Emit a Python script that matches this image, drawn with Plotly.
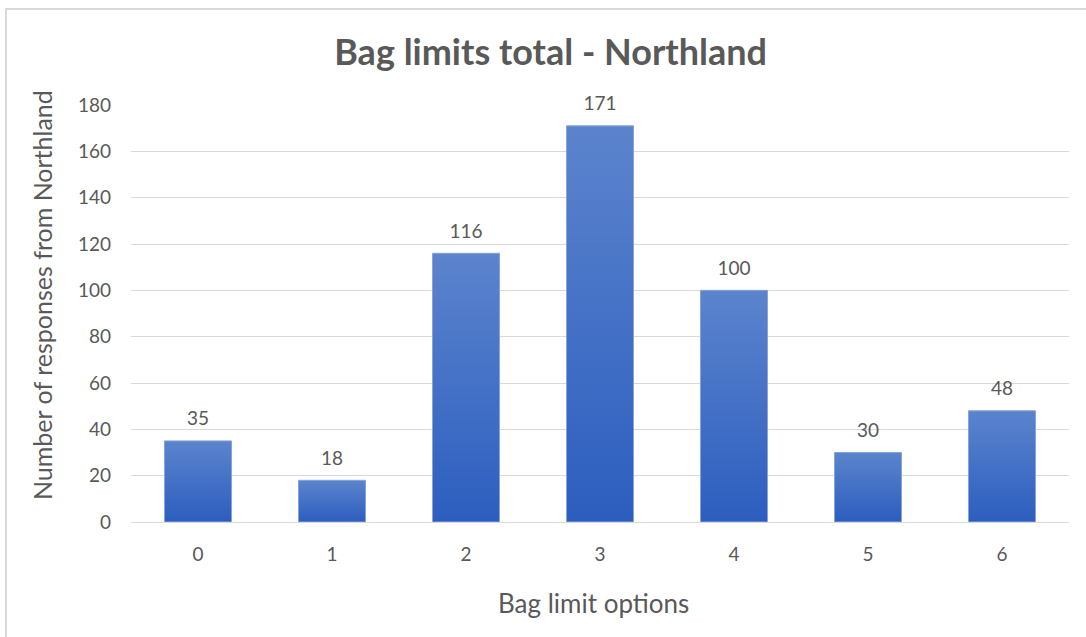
import plotly.graph_objects as go

# Survey results: preferred bag limit per option, Northland respondents
bag_limit_options = [0, 1, 2, 3, 4, 5, 6]
responses = [35, 18, 116, 171, 100, 30, 48]
y_ticks = [0, 20, 40, 60, 80, 100, 120, 140, 160, 180]

FONT = "Lato"
GREY = "#595959"
BAR_TOP = "#5c84cd"
BAR_BOTTOM = "#2c5ebf"
BAR_HALF_WIDTH = 0.25

fig = go.Figure()

# Each bar is a filled rectangle so it can carry a vertical gradient
for opt, val in zip(bag_limit_options, responses):
    x0, x1 = opt - BAR_HALF_WIDTH, opt + BAR_HALF_WIDTH
    fig.add_trace(go.Scatter(
        x=[x0, x0, x1, x1, x0],
        y=[0, val, val, 0, 0],
        mode="lines",
        fill="toself",
        fillgradient=dict(type="vertical",
                          colorscale=[[0, BAR_BOTTOM], [1, BAR_TOP]]),
        line=dict(color="#86a3dc", width=1),
        hoverinfo="skip",
        showlegend=False,
    ))

# Value labels above each bar (invisible marker keeps a gap to the bar top)
fig.add_trace(go.Scatter(
    x=bag_limit_options,
    y=responses,
    mode="markers+text",
    marker=dict(size=16, color="rgba(0,0,0,0)"),
    text=[str(v) for v in responses],
    textposition="top center",
    textfont=dict(family=FONT, size=19, color=GREY),
    cliponaxis=False,
    showlegend=False,
    hoverinfo="skip",
))

fig.update_layout(
    width=1086,
    height=637,
    margin=dict(l=131, r=17, t=105, b=115),
    paper_bgcolor="white",
    plot_bgcolor="white",
    font=dict(family=FONT, color=GREY),
    title=dict(
        text="<b>Bag limits total - Northland</b>",
        font=dict(family=FONT, size=36, color=GREY),
        xref="container", x=0.507, xanchor="center",
        yref="container", y=1 - 52 / 637, yanchor="middle",
    ),
    showlegend=False,
)

fig.update_xaxes(
    range=[-0.5, 6.5],
    tickvals=bag_limit_options,
    ticktext=[str(v) for v in bag_limit_options],
    tickfont=dict(family=FONT, size=19, color=GREY),
    showgrid=False,
    zeroline=False,
    showline=False,
    ticks="",
    ticklabelstandoff=19,
)

fig.update_yaxes(
    range=[0, 180],
    tickvals=y_ticks,
    tickfont=dict(family=FONT, size=19, color=GREY),
    showgrid=True,
    gridcolor="#d9d9d9",
    gridwidth=1,
    zeroline=True,
    zerolinecolor="#d9d9d9",
    zerolinewidth=1,
    showline=False,
    ticks="",
    ticklabelstandoff=19,
)

# Axis titles
fig.add_annotation(
    text="Bag limit options",
    xref="paper", yref="paper",
    x=(593 - 131) / 938, y=(522 - 603) / 417,
    xanchor="center", yanchor="middle",
    showarrow=False,
    font=dict(family=FONT, size=26, color=GREY),
)
fig.add_annotation(
    text="Number of responses from Northland",
    xref="paper", yref="paper",
    x=(42 - 131) / 938, y=(522 - 295) / 417,
    xanchor="center", yanchor="middle",
    textangle=-90,
    showarrow=False,
    font=dict(family=FONT, size=25, color=GREY),
)

# Chart frame (top and left edges visible)
fig.add_shape(
    type="rect",
    xref="paper", yref="paper",
    x0=(6 - 131) / 938, x1=1.2,
    y0=-0.5, y1=(522 - 9) / 417,
    line=dict(color="#d9d9d9", width=2),
    fillcolor="rgba(0,0,0,0)",
    layer="below",
)

fig.write_html("out.html")
